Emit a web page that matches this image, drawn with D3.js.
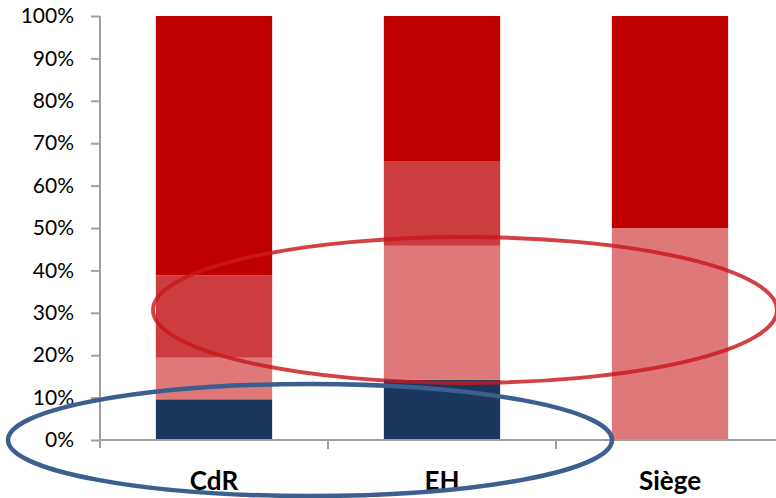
<html>
<head>
    <meta charset="utf-8">
    <script src="https://d3js.org/d3.v7.min.js"></script>
    <style>
        body { margin: 0; background: white; }
        text { font-family: Lato, "Open Sans", sans-serif; }
    </style>
</head>
<body>
<svg id="chart"></svg>
<script>
    // data (percent of each bar)
    const categories = ["CdR", "EH", "Siège"];
    const seriesNames = ["s1", "s2", "s3", "s4"];
    const s1 = [9.6, 14.2, 0];
    const s2 = [9.8, 31.6, 50];
    const s3 = [19.4, 20.0, 0];
    const s4 = [61.2, 34.2, 50];
    const seriesColors = ["#1a375e", "#df7878", "#ce3d3d", "#c00000"];
    const yTicks = [0, 10, 20, 30, 40, 50, 60, 70, 80, 90, 100];

    const width = 776, height = 498;
    const svg = d3.select("svg#chart")
                  .attr("width", width)
                  .attr("height", height);

    const x = d3.scaleBand()
                .domain(categories)
                .range([100, 784])
                .paddingInner(0.49)
                .paddingOuter(0.245);
    const xOuter = d3.scaleBand().domain(categories).range([100, 784]);
    const y = d3.scaleLinear().domain([0, 100]).range([440, 16]);

    // build stack table
    const table = categories.map((c, i) => ({cat: c, s1: s1[i], s2: s2[i], s3: s3[i], s4: s4[i]}));
    const stacked = d3.stack().keys(seriesNames)(table);

    svg.append("g").selectAll("g").data(stacked)
       .join("g")
       .attr("fill", (d, i) => seriesColors[i])
       .selectAll("rect").data(d => d)
       .join("rect")
       .attr("x", d => x(d.data.cat))
       .attr("width", x.bandwidth())
       .attr("y", d => y(d[1]))
       .attr("height", d => y(d[0]) - y(d[1]));

    // y axis
    const yAxis = svg.append("g")
       .attr("transform", "translate(100,0)")
       .call(d3.axisLeft(y).tickValues(yTicks).tickFormat(d => d + "%").tickSize(9).tickPadding(17));
    yAxis.select(".domain").attr("d", "M0,16V448").attr("stroke", "#a0a0a0").attr("stroke-width", 2);
    yAxis.selectAll(".tick line").attr("stroke", "#a0a0a0").attr("stroke-width", 2);
    yAxis.selectAll(".tick text").attr("font-size", 21).attr("fill", "#000")
         .style("font-family", "Lato, sans-serif");

    // x axis
    const xAxisG = svg.append("g").attr("transform", "translate(0,440)");
    xAxisG.append("line").attr("x1", 100).attr("x2", 784)
          .attr("stroke", "#a0a0a0").attr("stroke-width", 2);
    xAxisG.selectAll("line.sep").data(categories.slice(1))
          .join("line").attr("class", "sep")
          .attr("x1", d => xOuter(d)).attr("x2", d => xOuter(d))
          .attr("y1", 0).attr("y2", 9)
          .attr("stroke", "#a0a0a0").attr("stroke-width", 2);
    xAxisG.selectAll("text").data(categories)
          .join("text")
          .attr("x", d => x(d) + x.bandwidth() / 2)
          .attr("y", 50)
          .attr("text-anchor", "middle")
          .attr("font-size", 26)
          .attr("font-weight", "bold")
          .text(d => d);

    // highlight ellipses
    svg.append("ellipse")
       .attr("cx", 465).attr("cy", 310).attr("rx", 312).attr("ry", 73)
       .attr("fill", "none").attr("stroke", "#c8191c").attr("stroke-opacity", 0.82)
       .attr("stroke-width", 4);
    svg.append("ellipse")
       .attr("cx", 310).attr("cy", 440).attr("rx", 302).attr("ry", 56)
       .attr("fill", "none").attr("stroke", "#3b5f8e")
       .attr("stroke-width", 4.5);
</script>
</body>
</html>
